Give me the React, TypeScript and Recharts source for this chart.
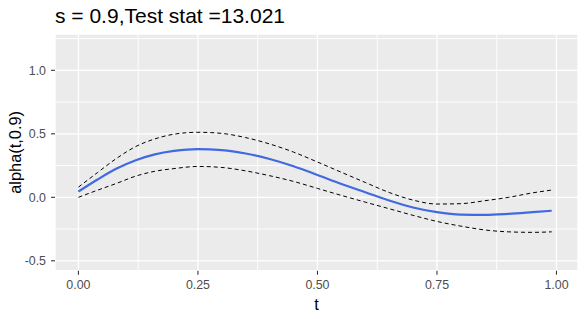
import React from 'react';
import { LineChart, Line, XAxis, YAxis, CartesianGrid, ReferenceLine } from 'recharts';

const tValues = [0, 0.04, 0.08, 0.12, 0.16, 0.2, 0.25, 0.3, 0.35, 0.4, 0.45, 0.5, 0.55, 0.6, 0.65, 0.7, 0.75, 0.8, 0.85, 0.9, 0.95, 0.99];
const estimate = [0.045, 0.14, 0.226, 0.292, 0.338, 0.365, 0.38, 0.372, 0.345, 0.302, 0.245, 0.176, 0.105, 0.04, -0.025, -0.08, -0.117, -0.136, -0.138, -0.13, -0.117, -0.106];
const upper = [0.08, 0.195, 0.307, 0.4, 0.46, 0.497, 0.512, 0.503, 0.47, 0.42, 0.356, 0.278, 0.197, 0.117, 0.038, -0.022, -0.053, -0.05, -0.027, 0.0, 0.035, 0.057];
const lower = [0.0, 0.056, 0.11, 0.167, 0.205, 0.226, 0.243, 0.235, 0.208, 0.17, 0.125, 0.07, 0.015, -0.038, -0.09, -0.142, -0.19, -0.227, -0.257, -0.272, -0.276, -0.272];

const xTicks = [0, 0.25, 0.5, 0.75, 1];
const yTicks = [-0.5, 0, 0.5, 1];
const xMinor = [0.125, 0.375, 0.625, 0.875];
const yMinor = [-0.25, 0.25, 0.75, 1.25];

const titleText = 's = 0.9,Test stat =13.021';
const xTitle = 't';
const yTitle = 'alpha(t,0.9)';

const data = tValues.map((t, i) => ({ t, est: estimate[i], up: upper[i], lo: lower[i] }));

const FONT = '"Liberation Sans", Arial, sans-serif';

export default function App() {
  return (
    <div style={{ position: 'absolute', left: 0, top: 0, width: 586, height: 319, background: '#FFFFFF' }}>
      <LineChart width={586} height={319} data={data} margin={{ top: 34, right: 8, bottom: 0, left: 0 }}>
        <CartesianGrid fill="#EBEBEB" stroke="#FFFFFF" strokeWidth={1.3} />
        {xMinor.map((v) => (
          <ReferenceLine key={'xm' + v} x={v} stroke="#FFFFFF" strokeWidth={0.9} />
        ))}
        {yMinor.map((v) => (
          <ReferenceLine key={'ym' + v} y={v} stroke="#FFFFFF" strokeWidth={0.9} />
        ))}
        <XAxis
          type="number"
          dataKey="t"
          domain={[-0.049, 1.045]}
          allowDataOverflow
          ticks={xTicks}
          tickFormatter={(v: number) => v.toFixed(2)}
          axisLine={false}
          tickLine={{ stroke: '#333333', strokeWidth: 1.07 }}
          tickSize={4}
          tickMargin={5}
          height={48.3}
          tick={{ fill: '#4D4D4D', fontSize: 12.4, fontFamily: FONT }}
          interval={0}
        />
        <YAxis
          type="number"
          domain={[-0.578, 1.286]}
          allowDataOverflow
          ticks={yTicks}
          tickFormatter={(v: number) => v.toFixed(1)}
          axisLine={false}
          tickLine={{ stroke: '#333333', strokeWidth: 1.07 }}
          tickSize={4}
          tickMargin={5}
          width={55}
          tick={{ fill: '#4D4D4D', fontSize: 12.4, fontFamily: FONT }}
          interval={0}
        />
        <Line type="monotone" dataKey="up" stroke="#000000" strokeWidth={1} strokeDasharray="4 3" dot={false} isAnimationActive={false} />
        <Line type="monotone" dataKey="lo" stroke="#000000" strokeWidth={1} strokeDasharray="4 3" dot={false} isAnimationActive={false} />
        <Line type="monotone" dataKey="est" stroke="#4169E1" strokeWidth={2.2} dot={false} isAnimationActive={false} />
      </LineChart>
      <svg width={586} height={319} style={{ position: 'absolute', left: 0, top: 0, pointerEvents: 'none' }}>
        <text x={55} y={23.3} fontSize={21} fontFamily={FONT} fill="#000000">{titleText}</text>
        <text x={316.5} y={309.5} fontSize={16.4} fontFamily={FONT} fill="#000000" textAnchor="middle">{xTitle}</text>
        <text x={21} y={152.4} fontSize={16.4} fontFamily={FONT} fill="#000000" textAnchor="middle" transform="rotate(-90, 21, 152.4)">{yTitle}</text>
      </svg>
    </div>
  );
}
